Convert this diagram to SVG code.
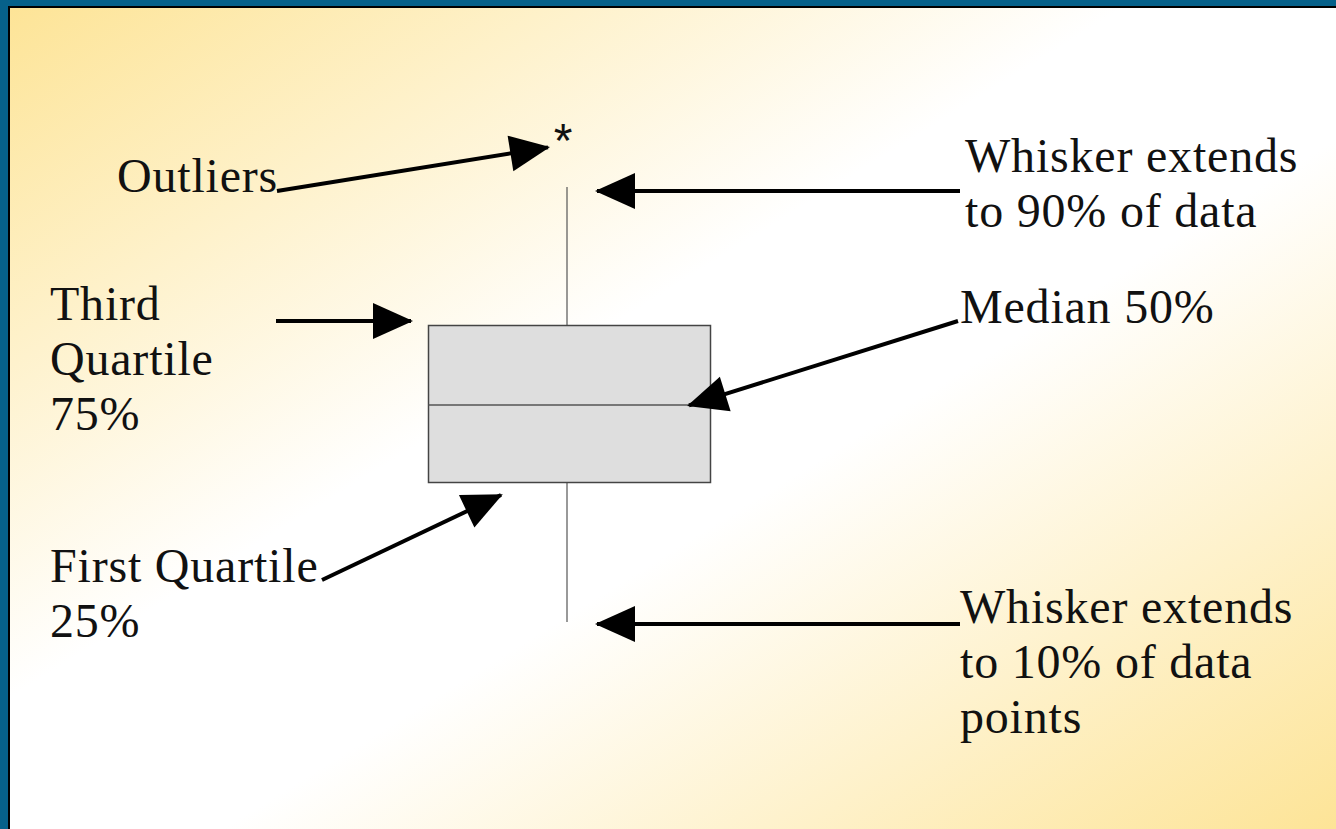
<svg xmlns="http://www.w3.org/2000/svg" width="1336" height="829" viewBox="0 0 1336 829">
  <defs>
    <linearGradient id="bg" x1="0" y1="0" x2="1" y2="1">
      <stop offset="0" stop-color="#FDE497"/>
      <stop offset="0.42" stop-color="#FFFFFF"/>
      <stop offset="0.58" stop-color="#FFFFFF"/>
      <stop offset="1" stop-color="#FDE497"/>
    </linearGradient>
    <marker id="ah" markerUnits="userSpaceOnUse" markerWidth="40" markerHeight="36" refX="38" refY="18" orient="auto" overflow="visible">
      <path d="M0,0 L40,18 L0,36 Z" fill="#000"/>
    </marker>
    <style>
      .lbl { font-family: "Liberation Serif", "Times New Roman", serif; font-size: 48px; letter-spacing: 0.8px; fill: #111; }
      .conn { stroke: #000; stroke-width: 4; fill: none; marker-end: url(#ah); }
      .whisk { stroke: #555; stroke-width: 1.2; fill: none; }
    </style>
  </defs>

  <!-- frame and background -->
  <rect x="0" y="0" width="1336" height="829" fill="#06618A"/>
  <rect x="8" y="6" width="1328" height="823" fill="#000"/>
  <rect x="10" y="8" width="1326" height="821" fill="url(#bg)"/>

  <!-- box plot -->
  <g id="boxplot">
    <line class="whisk" x1="567" y1="187" x2="567" y2="325"/>
    <line class="whisk" x1="567" y1="483" x2="567" y2="622"/>
    <rect x="428.5" y="325.5" width="282" height="157" fill="#DEDEDE" stroke="#444" stroke-width="1.5"/>
    <line x1="428.5" y1="405" x2="710.5" y2="405" stroke="#555" stroke-width="1.5"/>
  </g>

  <g id="outlier">
    <text x="563" y="157" text-anchor="middle" style="font-family: 'Liberation Sans', Arial, sans-serif; font-size: 48px; fill:#111;">*</text>
  </g>

  <!-- labels -->
  <g id="label-outliers">
    <text class="lbl" x="117" y="192">Outliers</text>
  </g>
  <g id="label-whisker-top">
    <text class="lbl" x="965" y="172">Whisker extends</text>
    <text class="lbl" x="965" y="227">to 90% of data</text>
  </g>
  <g id="label-third-quartile">
    <text class="lbl" x="50" y="320">Third</text>
    <text class="lbl" x="50" y="375">Quartile</text>
    <text class="lbl" x="50" y="430">75%</text>
  </g>
  <g id="label-median">
    <text class="lbl" x="960" y="323">Median 50%</text>
  </g>
  <g id="label-first-quartile">
    <text class="lbl" x="50" y="582">First Quartile</text>
    <text class="lbl" x="50" y="637">25%</text>
  </g>
  <g id="label-whisker-bottom">
    <text class="lbl" x="960" y="623">Whisker extends</text>
    <text class="lbl" x="960" y="678">to 10% of data</text>
    <text class="lbl" x="960" y="733">points</text>
  </g>

  <!-- connectors -->
  <g id="connectors">
    <line class="conn" x1="277" y1="191" x2="548" y2="147.4"/>
    <line class="conn" x1="960" y1="191" x2="597" y2="191"/>
    <line class="conn" x1="276" y1="321" x2="411" y2="321"/>
    <line class="conn" x1="958" y1="321" x2="689" y2="405.4"/>
    <line class="conn" x1="322" y1="580" x2="501" y2="495"/>
    <line class="conn" x1="960" y1="624" x2="597" y2="624"/>
  </g>
</svg>
